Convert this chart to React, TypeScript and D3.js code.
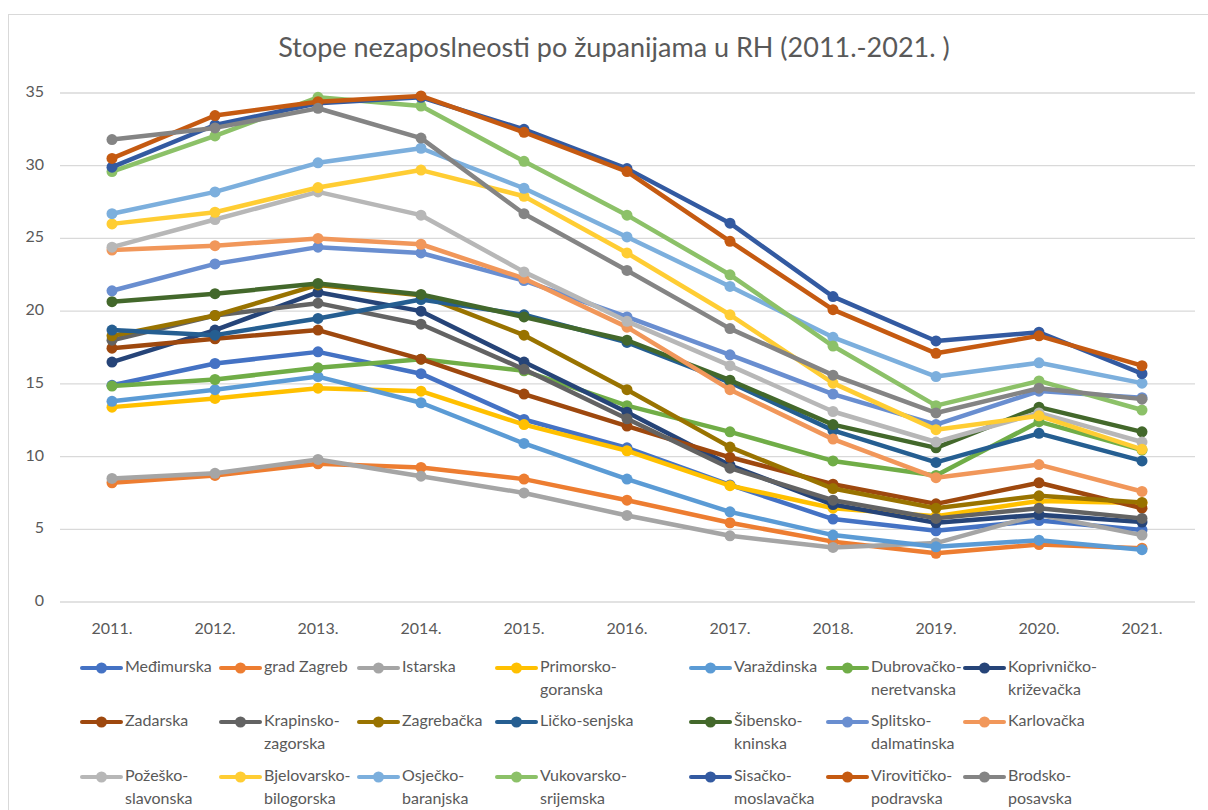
import React from 'react';
import * as d3 from 'd3';

const years = ['2011.', '2012.', '2013.', '2014.', '2015.', '2016.', '2017.', '2018.', '2019.', '2020.', '2021.'];
const yTicks = [0, 5, 10, 15, 20, 25, 30, 35];

// stope nezaposlenosti po županijama (%), očitano s grafa
const medimurska = [14.9, 16.4, 17.2, 15.7, 12.55, 10.6, 8.05, 5.7, 4.9, 5.6, 4.95];
const gradZagreb = [8.2, 8.7, 9.5, 9.25, 8.45, 7.0, 5.45, 4.15, 3.35, 3.95, 3.7];
const istarska = [8.5, 8.85, 9.8, 8.65, 7.5, 5.95, 4.55, 3.75, 4.05, 6.0, 4.6];
const primorsko = [13.4, 14.0, 14.7, 14.5, 12.2, 10.4, 8.0, 6.45, 5.9, 6.95, 6.8];
const varazdinska = [13.8, 14.6, 15.5, 13.7, 10.9, 8.45, 6.2, 4.6, 3.8, 4.25, 3.6];
const dubrovacko = [14.85, 15.3, 16.1, 16.7, 15.9, 13.5, 11.7, 9.7, 8.7, 12.4, 10.45];
const koprivnicko = [16.5, 18.7, 21.3, 20.0, 16.5, 13.05, 9.4, 6.7, 5.45, 6.0, 5.5];
const zadarska = [17.45, 18.1, 18.7, 16.7, 14.3, 12.1, 9.95, 8.1, 6.75, 8.2, 6.45];
const krapinsko = [18.0, 19.7, 20.55, 19.1, 16.0, 12.6, 9.2, 7.0, 5.75, 6.45, 5.75];
const zagrebacka = [18.3, 19.7, 21.8, 21.1, 18.35, 14.6, 10.65, 7.8, 6.45, 7.3, 6.85];
const licko = [18.7, 18.35, 19.5, 20.8, 19.75, 17.85, 15.1, 11.8, 9.6, 11.6, 9.7];
const sibensko = [20.65, 21.2, 21.9, 21.15, 19.6, 18.0, 15.25, 12.2, 10.6, 13.4, 11.7];
const splitsko = [21.4, 23.25, 24.4, 24.0, 22.1, 19.6, 17.0, 14.3, 12.2, 14.5, 14.05];
const karlovacka = [24.2, 24.5, 25.0, 24.6, 22.25, 18.9, 14.6, 11.2, 8.55, 9.45, 7.6];
const pozesko = [24.4, 26.3, 28.2, 26.6, 22.7, 19.3, 16.25, 13.1, 11.0, 13.0, 11.0];
const bjelovarsko = [26.0, 26.8, 28.5, 29.7, 27.9, 24.0, 19.75, 15.05, 11.85, 12.8, 10.5];
const osjecko = [26.7, 28.2, 30.2, 31.2, 28.45, 25.1, 21.7, 18.2, 15.5, 16.45, 15.05];
const vukovarsko = [29.6, 32.05, 34.7, 34.1, 30.3, 26.6, 22.5, 17.6, 13.5, 15.2, 13.2];
const sisacko = [29.9, 32.8, 34.3, 34.7, 32.5, 29.8, 26.05, 21.0, 17.95, 18.55, 15.7];
const viroviticko = [30.5, 33.45, 34.4, 34.8, 32.3, 29.6, 24.8, 20.1, 17.1, 18.3, 16.25];
const brodsko = [31.8, 32.6, 33.95, 31.9, 26.7, 22.8, 18.8, 15.6, 13.0, 14.7, 13.95];

const names = [
  'Međimurska', 'grad Zagreb', 'Istarska', 'Primorsko-goranska', 'Varaždinska', 'Dubrovačko-neretvanska',
  'Koprivničko-križevačka', 'Zadarska', 'Krapinsko-zagorska', 'Zagrebačka', 'Ličko-senjska',
  'Šibensko-kninska', 'Splitsko-dalmatinska', 'Karlovačka', 'Požeško-slavonska', 'Bjelovarsko-bilogorska',
  'Osječko-baranjska', 'Vukovarsko-srijemska', 'Sisačko-moslavačka', 'Virovitičko-podravska', 'Brodsko-posavska',
];
const values = [
  medimurska, gradZagreb, istarska, primorsko, varazdinska, dubrovacko, koprivnicko, zadarska, krapinsko,
  zagrebacka, licko, sibensko, splitsko, karlovacka, pozesko, bjelovarsko, osjecko, vukovarsko, sisacko,
  viroviticko, brodsko,
];
const colors = [
  '#4472C4', '#ED7D31', '#A5A5A5', '#FFC000', '#5B9BD5', '#70AD47',
  '#264478', '#9E480E', '#636363', '#997300', '#255E91', '#43682B',
  '#698ED0', '#F1975A', '#B7B7B7', '#FFCD33', '#7CAFDD', '#8CC168',
  '#335AA1', '#C55A11', '#848484',
];

const W = 1208;
const H = 810;
const FONT = 'Lato, "Open Sans", sans-serif';
const TXT = '#595959';

// legend layout (Excel places 7 columns, Ličko-senjska column is wider)
const legendCols = [82, 221, 359, 497, 691, 828, 965];
const legendRows = [668, 722, 777];

const App = () => {
  const x = d3.scalePoint<string>().domain(years).range([112, 1142]);
  const y = d3.scaleLinear().domain([0, 35]).range([602, 93]);
  const line = d3
    .line<number>()
    .x((_, i) => x(years[i]) as number)
    .y(d => y(d));

  const series = names.map((name, i) => ({ name, color: colors[i], data: values[i] }));

  return (
    <svg width={W} height={H} style={{ position: 'absolute', left: 0, top: 0, background: '#fff' }} fontFamily={FONT}>
      <rect x={8.5} y={14.5} width={W} height={H} fill="#fff" stroke="#D9D9D9" strokeWidth={1} />

      <text x={614} y={50} textAnchor="middle" dominantBaseline="middle" fontSize={27} fill={TXT}>
        Stope nezaposlneosti po županijama u RH (2011.-2021. )
      </text>

      {/* gridlines + y axis */}
      {yTicks.map(t => (
        <g key={t}>
          <line x1={60} x2={1195} y1={y(t)} y2={y(t)} stroke="#D9D9D9" strokeWidth={1.3} />
          <text x={44} y={y(t)} textAnchor="end" dominantBaseline="middle" fontSize={16} fill={TXT}>
            {t}
          </text>
        </g>
      ))}

      {/* x axis labels */}
      {years.map(yr => (
        <text key={yr} x={x(yr)} y={630} textAnchor="middle" dominantBaseline="middle" fontSize={16} fill={TXT}>
          {yr}
        </text>
      ))}

      {/* lines */}
      {series.map(s => (
        <g key={s.name}>
          <path d={line(s.data) || ''} fill="none" stroke={s.color} strokeWidth={4.5} strokeLinejoin="round" strokeLinecap="round" />
          {s.data.map((v, i) => (
            <circle key={i} cx={x(years[i])} cy={y(v)} r={5.5} fill={s.color} />
          ))}
        </g>
      ))}

      {/* legend */}
      {series.map((s, i) => {
        const cx = legendCols[i % 7];
        const cy = legendRows[Math.floor(i / 7)];
        const parts = s.name.includes('-') && s.name !== 'Ličko-senjska'
          ? [s.name.slice(0, s.name.indexOf('-') + 1), s.name.slice(s.name.indexOf('-') + 1)]
          : [s.name];
        return (
          <g key={s.name}>
            <line x1={cx} x2={cx + 39} y1={cy} y2={cy} stroke={s.color} strokeWidth={4} strokeLinecap="round" />
            <circle cx={cx + 19.5} cy={cy} r={5.5} fill={s.color} />
            {parts.map((p, j) => (
              <text key={j} x={cx + 43} y={cy + j * 23} dominantBaseline="middle" fontSize={16} fill={TXT}>
                {p}
              </text>
            ))}
          </g>
        );
      })}
    </svg>
  );
};

export default App;
